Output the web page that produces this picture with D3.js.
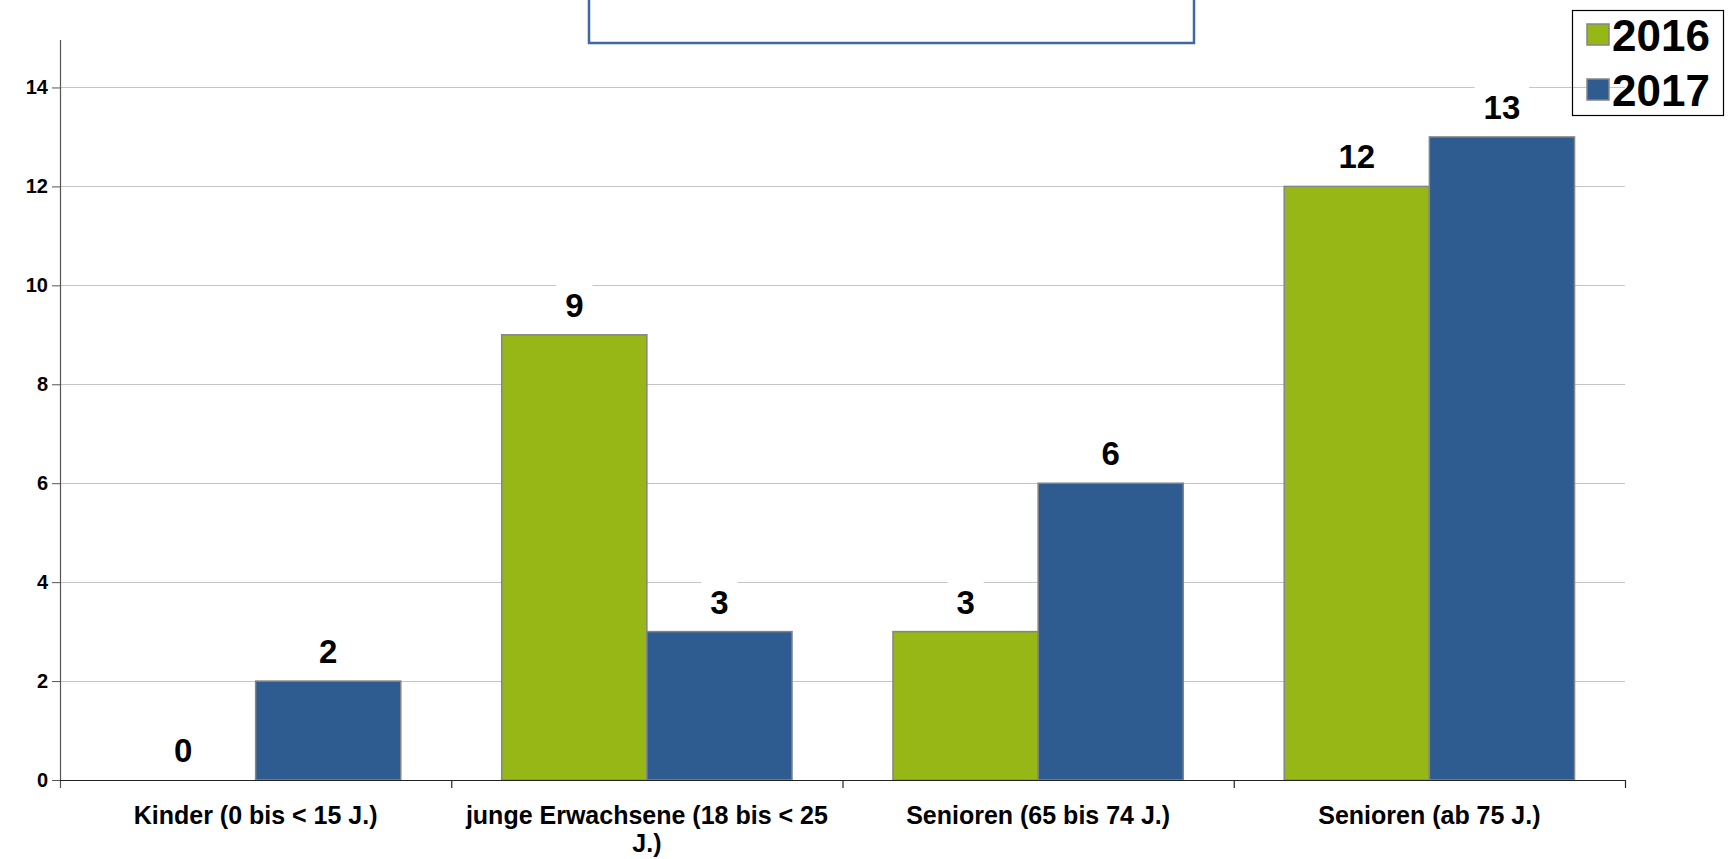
<!DOCTYPE html>
<html>
<head>
<meta charset="utf-8">
<script src="https://cdn.jsdelivr.net/npm/d3@7"></script>
<style>
  body { margin: 0; background: #fff; }
  svg { display: block; font-family: "Liberation Sans", Arial, sans-serif; font-weight: bold; }
</style>
</head>
<body>
<div id="chart"></div>
<script>
const categories = [
	"Kinder (0 bis < 15 J.)",
	"junge Erwachsene (18 bis < 25 J.)",
	"Senioren (65 bis 74 J.)",
	"Senioren (ab 75 J.)"
];
const series = ["2016", "2017"];
const values2016 = [0, 9, 3, 12];
const values2017 = [2, 3, 6, 13];
const yTicks = [0, 2, 4, 6, 8, 10, 12, 14];

const WIDTH = 1731;
const HEIGHT = 859;
const COLORS = {"2016": "#96b716", "2017": "#2e5c91"};
const BAR_STROKE = "#858585";
const GRID_COLOR = "#c4c4c4";
const FONT = "'Liberation Sans', Arial, sans-serif";

const margin = {left: 60, right: 106, top: 38, bottom: 79};

const data = categories.map((c, i) => ({
	category: c,
	values: [
		{key: "2016", value: values2016[i]},
		{key: "2017", value: values2017[i]}
	]
}));

const svg = d3.select("#chart").append("svg")
	.attr("width", WIDTH)
	.attr("height", HEIGHT);

const x0 = d3.scaleBand()
	.domain(categories)
	.range([margin.left, WIDTH - margin.right])
	.paddingInner(0)
	.paddingOuter(0);

const bw = x0.bandwidth();
const gap = bw * 0.129;
const x1 = d3.scaleBand()
	.domain(series)
	.range([gap, bw - gap]);

const y = d3.scaleLinear()
	.domain([0, 15])
	.range([HEIGHT - margin.bottom, margin.top]);

// title box (its text is cut off at the top of the picture)
svg.append("rect")
	.attr("x", 589)
	.attr("y", -20)
	.attr("width", 605)
	.attr("height", 63)
	.attr("fill", "#fff")
	.attr("stroke", "#3f67a3")
	.attr("stroke-width", 2.5);

// gridlines
svg.append("g")
	.attr("class", "grid")
	.selectAll("line")
	.data(yTicks.filter(d => d > 0))
	.join("line")
	.attr("x1", margin.left)
	.attr("x2", WIDTH - margin.right)
	.attr("y1", d => Math.round(y(d)) + 0.5)
	.attr("y2", d => Math.round(y(d)) + 0.5)
	.attr("stroke", GRID_COLOR)
	.attr("stroke-width", 1.2);

// bars
const groups = svg.append("g")
	.attr("class", "bars")
	.selectAll("g")
	.data(data)
	.join("g")
	.attr("transform", d => `translate(${x0(d.category)},0)`);

groups.selectAll("rect")
	.data(d => d.values.filter(v => v.value > 0))
	.join("rect")
	.attr("x", d => x1(d.key))
	.attr("y", d => y(d.value))
	.attr("width", x1.bandwidth())
	.attr("height", d => y(0) - y(d.value))
	.attr("fill", d => COLORS[d.key])
	.attr("stroke", BAR_STROKE)
	.attr("stroke-width", 1.5);

// value labels with white background
const labels = groups.selectAll("g.label")
	.data(d => d.values)
	.join("g")
	.attr("class", "label")
	.attr("transform", d => `translate(${x1(d.key) + x1.bandwidth() / 2},${y(d.value) - 18})`);

labels.append("rect")
	.attr("fill", "#fff");

labels.append("text")
	.attr("text-anchor", "middle")
	.style("font-size", "33px")
	.attr("fill", "#000")
	.text(d => d.value);

labels.each(function() {
	const g = d3.select(this);
	const w = g.select("text").node().getComputedTextLength();
	g.select("rect")
		.attr("x", -w / 2 - 9)
		.attr("y", -33)
		.attr("width", w + 18)
		.attr("height", 40);
});

// y axis
const yAxis = d3.axisLeft(y)
	.tickValues(yTicks)
	.tickSize(8)
	.tickSizeOuter(0)
	.tickPadding(4);

svg.append("g")
	.attr("class", "y-axis")
	.attr("transform", `translate(${margin.left},0)`)
	.call(yAxis)
	.call(g => g.select(".domain").remove())
	.call(g => g.selectAll("line").attr("stroke", "#555"))
	.call(g => g.selectAll("text")
		.style("font-size", "20px")
		.style("font-family", FONT)
		.style("font-weight", "bold")
		.attr("fill", "#000"));

svg.append("line")
	.attr("x1", margin.left + 0.5)
	.attr("x2", margin.left + 0.5)
	.attr("y1", 40)
	.attr("y2", y(0) + 8)
	.attr("stroke", "#555")
	.attr("stroke-width", 1.2);

// x axis
const xAxis = d3.axisBottom(x0)
	.tickSize(0)
	.tickPadding(0);

const xAxisGroup = svg.append("g")
	.attr("class", "x-axis")
	.attr("transform", `translate(0,${y(0)})`)
	.call(xAxis)
	.call(g => g.select(".domain").remove());

xAxisGroup.append("line")
	.attr("x1", margin.left)
	.attr("x2", WIDTH - margin.right)
	.attr("y1", 0.5)
	.attr("y2", 0.5)
	.attr("stroke", "#222")
	.attr("stroke-width", 1.2);

// ticks between the categories
xAxisGroup.selectAll("line.sep")
	.data(categories.slice(1).map(c => x0(c)).concat([x0(categories[categories.length - 1]) + bw]))
	.join("line")
	.attr("class", "sep")
	.attr("x1", d => d + 0.5)
	.attr("x2", d => d + 0.5)
	.attr("y1", 0)
	.attr("y2", 8)
	.attr("stroke", "#222")
	.attr("stroke-width", 1.2);

xAxisGroup.selectAll(".tick text")
	.style("font-size", "25px")
	.style("font-family", FONT)
	.style("font-weight", "bold")
	.attr("fill", "#000")
	.attr("dy", null)
	.attr("y", 44)
	.call(wrap, bw - 4);

function wrap(texts, width) {
	texts.each(function() {
		const text = d3.select(this);
		const words = text.text().split(/\s+/);
		text.text(null);
		let line = [];
		let tspan = text.append("tspan").attr("x", 0).attr("y", 44);
		let lineNo = 0;
		for (const word of words) {
			line.push(word);
			tspan.text(line.join(" "));
			if (tspan.node().getComputedTextLength() > width && line.length > 1) {
				line.pop();
				tspan.text(line.join(" "));
				line = [word];
				lineNo++;
				tspan = text.append("tspan")
					.attr("x", 0)
					.attr("y", 44 + lineNo * 28)
					.text(word);
			}
		}
	});
}

// legend
const legend = svg.append("g")
	.attr("class", "legend")
	.attr("transform", "translate(1572,10)");

legend.append("rect")
	.attr("x", 0.5)
	.attr("y", 0.5)
	.attr("width", 151)
	.attr("height", 105)
	.attr("fill", "none")
	.attr("stroke", "#000")
	.attr("stroke-width", 1.2);

const items = legend.selectAll("g.item")
	.data(series)
	.join("g")
	.attr("class", "item")
	.attr("transform", (d, i) => `translate(15,${14 + i * 55})`);

items.append("rect")
	.attr("width", 22)
	.attr("height", 21)
	.attr("fill", d => COLORS[d])
	.attr("stroke", BAR_STROKE)
	.attr("stroke-width", 1.5);

items.append("text")
	.attr("x", 25)
	.attr("y", 27)
	.style("font-size", "44px")
	.attr("fill", "#000")
	.text(d => d);
</script>
</body>
</html>
